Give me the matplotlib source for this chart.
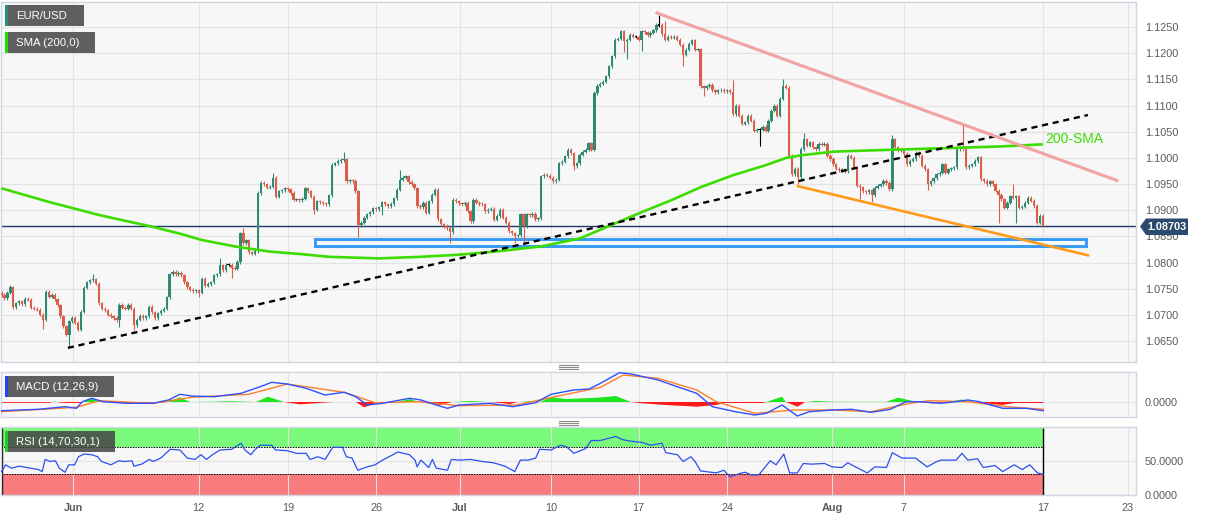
import matplotlib
matplotlib.use('Agg')
import matplotlib.pyplot as plt
from matplotlib.patches import Rectangle, Polygon
from matplotlib.lines import Line2D
import numpy as np

plt.rcParams['font.family'] = ['Liberation Sans', 'DejaVu Sans']
W, H = 1207, 521

# ---------------- DATA ----------------
first_open = 1.0742
closes = [
    1.0738, 1.0732, 1.0742, 1.0753, 1.0715, 1.0722, 1.0726, 1.0720, 1.0731, 1.0729,
    1.0714, 1.0712, 1.0710, 1.0700, 1.0691, 1.0744, 1.0735, 1.0738, 1.0730, 1.0718,
    1.0697, 1.0678, 1.0662, 1.0688, 1.0694, 1.0685, 1.0672, 1.0706, 1.0752, 1.0762,
    1.0766, 1.0768, 1.0760, 1.0722, 1.0712, 1.0709, 1.0700, 1.0697, 1.0694, 1.0690,
    1.0719, 1.0714, 1.0712, 1.0719, 1.0712, 1.0680, 1.0691, 1.0698, 1.0694, 1.0697,
    1.0716, 1.0705, 1.0694, 1.0703, 1.0708, 1.0712, 1.0734, 1.0778, 1.0782, 1.0778,
    1.0780, 1.0776, 1.0762, 1.0753, 1.0748, 1.0745, 1.0747, 1.0742, 1.0769, 1.0756,
    1.0759, 1.0762, 1.0776, 1.0778, 1.0795, 1.0785, 1.0796, 1.0796, 1.0790, 1.0788,
    1.0801, 1.0856, 1.0837, 1.0843, 1.0820, 1.0817, 1.0822, 1.0933, 1.0952, 1.0950,
    1.0943, 1.0945, 1.0962, 1.0926, 1.0936, 1.0938, 1.0942, 1.0940, 1.0933, 1.0920,
    1.0921, 1.0919, 1.0922, 1.0942, 1.0936, 1.0926, 1.0901, 1.0917, 1.0915, 1.0913,
    1.0911, 1.0929, 1.0987, 1.0990, 1.0994, 1.0996, 1.0997, 1.0955, 1.0957, 1.0956,
    1.0936, 1.0871, 1.0876, 1.0886, 1.0892, 1.0896, 1.0904, 1.0902, 1.0906, 1.0915,
    1.0911, 1.0908, 1.0912, 1.0923, 1.0939, 1.0958, 1.0962, 1.0965, 1.0954, 1.0950,
    1.0942, 1.0908, 1.0906, 1.0914, 1.0895, 1.0917, 1.0930, 1.0939, 1.0883, 1.0873,
    1.0870, 1.0866, 1.0858, 1.0920, 1.0917, 1.0913, 1.0911, 1.0914, 1.0898, 1.0879,
    1.0920, 1.0914, 1.0912, 1.0911, 1.0898, 1.0901, 1.0903, 1.0882, 1.0889, 1.0901,
    1.0886, 1.0876, 1.0860, 1.0856, 1.0851, 1.0852, 1.0892, 1.0870, 1.0892, 1.0890,
    1.0893, 1.0883, 1.0885, 1.0965, 1.0968, 1.0966, 1.0962, 1.0955, 1.0958, 1.0990,
    1.0993, 1.1003, 1.1016, 1.1009, 1.0984, 1.0990, 1.1006, 1.1012, 1.1016, 1.1028,
    1.1016, 1.1124, 1.1138, 1.1142, 1.1146, 1.1156, 1.1175, 1.1194, 1.1226, 1.1228,
    1.1242, 1.1223, 1.1226, 1.1235, 1.1232, 1.1232, 1.1226, 1.1242, 1.1240, 1.1235,
    1.1239, 1.1244, 1.1254, 1.1254, 1.1236, 1.1226, 1.1232, 1.1230, 1.1232, 1.1226,
    1.1216, 1.1197, 1.1207, 1.1218, 1.1225, 1.1207, 1.1208, 1.1137, 1.1133, 1.1137,
    1.1140, 1.1129, 1.1126, 1.1129, 1.1130, 1.1128, 1.1129, 1.1126, 1.1084, 1.1100,
    1.1081, 1.1065, 1.1068, 1.1081, 1.1071, 1.1052, 1.1054, 1.1054, 1.1059, 1.1052,
    1.1071, 1.1090, 1.1100, 1.1081, 1.1113, 1.1138, 1.1134, 1.1004, 1.0969, 1.0979,
    1.0963, 1.1017, 1.1036, 1.1023, 1.1030, 1.1020, 1.1017, 1.1027, 1.1025, 1.1027,
    1.1004, 1.0998, 1.0988, 1.0979, 1.0976, 1.0978, 1.0975, 1.1004, 1.1000, 1.0982,
    1.0947, 1.0944, 1.0936, 1.0934, 1.0938, 1.0929, 1.0943, 1.0947, 1.0950, 1.0956,
    1.0952, 1.0940, 1.1036, 1.1020, 1.1014, 1.1016, 1.1008, 1.0988, 1.0995, 1.0998,
    1.1010, 1.1004, 1.0985, 1.0978, 1.0950, 1.0955, 1.0961, 1.0969, 1.0972, 1.0988,
    1.0972, 1.0978, 1.0980, 1.0982, 1.1017, 1.1020, 1.1017, 1.0982, 1.0985, 1.0988,
    1.0994, 1.1001, 1.0959, 1.0956, 1.0950, 1.0955, 1.0950, 1.0937, 1.0930, 1.0921,
    1.0905, 1.0914, 1.0927, 1.0924, 1.0927, 1.0905, 1.0907, 1.0914, 1.0924, 1.0918,
    1.0908, 1.0876, 1.0889, 1.08703,
]
last_price = 1.08703

# notable wick extremes (candle index, price)
hi_idx = [3, 31, 74, 82, 92, 116, 135, 223, 225, 248, 265, 272, 302, 326, 343]
hi_val = [1.0758, 1.0778, 1.0808, 1.0867, 1.0972, 1.1012, 1.0976, 1.1274, 1.1262,
          1.1148, 1.1151, 1.1047, 1.1044, 1.1065, 1.0950]
lo_idx = [14, 23, 40, 45, 67, 78, 106, 121, 129, 152, 174, 177, 194, 211, 212, 217,
          231, 238, 257, 270, 291, 295, 314, 338, 344]
lo_val = [1.0673, 1.0637, 1.0676, 1.0672, 1.0734, 1.0770, 1.0893, 1.0848, 1.0890,
          1.0838, 1.0838, 1.0835, 1.0976, 1.1203, 1.1189, 1.1204, 1.1175, 1.1118,
          1.1022, 1.0950, 1.0921, 1.0915, 1.0938, 1.0876, 1.0876]

# 200-SMA read points
sma_idx = [0, 16, 33, 41, 50, 60, 68, 80, 91, 102, 111, 128, 142, 155, 169, 183, 196,
           206, 216, 227, 237, 248, 259, 266, 271, 282, 298, 322, 339, 353]
sma_val = [1.0942, 1.0916, 1.0891, 1.0881, 1.0870, 1.0856, 1.0843, 1.0830, 1.0821,
           1.0816, 1.0811, 1.0808, 1.0811, 1.0815, 1.0822, 1.0831, 1.0846, 1.0870,
           1.0894, 1.0919, 1.0944, 1.0967, 1.0986, 1.1000, 1.1005, 1.1012, 1.1015,
           1.1019, 1.1022, 1.1026]

# trend lines (candle index, price)
up_trend_x = [22.5, 368.3]
up_trend_y = [1.0637, 1.1082]
down_trend_x = [222.2, 378.1]
down_trend_y = [1.1277, 1.0957]
low_trend_x = [270.0, 368.3]
low_trend_y = [1.0946, 1.0814]
zone_x = [106.3, 367.6]
zone_y = [1.0831, 1.0845]

# MACD (values in 1e-4 units)
macd_idx = [0, 12.5, 21.5, 25.4, 27.4, 30.6, 34.5, 42.3, 51.4, 56.6, 60.5, 64.4, 72.1,
            81.2, 87.7, 91.6, 96.8, 103.3, 109.7, 113.6, 116.2, 120.1, 124, 129.2,
            138.3, 142.2, 147.4, 151.2, 155.1, 165.5, 173.3, 181.1, 186.3, 194, 199.2,
            202.9, 209.5, 213.4, 222.6, 229.1, 235.7, 241, 248.8, 255.4, 259.3, 264.6,
            269.8, 273.8, 281.6, 288.2, 294.8, 301.3, 306.6, 311.8, 318.4, 323.6,
            327.6, 331.5, 339.4, 347.3, 353.2]
macd_e4 = [-8.7, -7.3, -4.7, -6.3, 0.3, 3.7, 0.3, -1.3, -1.3, 2, 7.7, 6, 5.3, 8.7,
           15.3, 19.7, 18, 13.7, 7, 8.7, 9.7, 5.3, -3, -1.3, 3.7, 2, -3, -6.3, -3,
           -1.3, -4.7, -0.7, 7.7, 12, 13, 18.5, 29.3, 28, 22, 15.3, 8.7, -4.7, -9.7,
           -13, -11.3, -3, -14, -9.7, -8, -7.3, -10.3, -7.3, 0.3, 0.3, -1.3, 0.3, 2,
           0.3, -6.3, -6.3, -8.7]
sig_idx = [0, 25.4, 33.2, 51.4, 64.4, 83.8, 96.8, 116.2, 126.6, 142.2, 155.1, 174.6,
           187.6, 202.9, 210.8, 222.6, 235.7, 242.3, 255.4, 262, 268.5, 281.6, 294.8,
           307.9, 314.5, 327.6, 340.7, 353.2]
sig_e4 = [-9.7, -5.3, 1.3, -1.3, 4.7, 7.7, 18, 9.7, -0.7, 0.3, -3.7, -3, 5.3, 14.5,
          27, 23.7, 12, 0.3, -11.3, -9.7, -8, -8, -9.7, -1.3, 1.3, 0.3, -4.7, -7.3]
hist_idx = [0, 16.4, 17.8, 19.8, 22.2, 26.6, 27.3, 30.7, 33.7, 40.2, 53.7, 56.4, 60.5,
            63.9, 72, 77.5, 86.3, 90.3, 95.8, 101.2, 112.4, 120.2, 122.9, 128.3, 131.7,
            134.4, 138.5, 141.5, 148.6, 152.7, 158.8, 165.6, 172.4, 175.1, 179.2,
            182.5, 186.3, 191.4, 199.5, 202.9, 208.2, 213.4, 216, 225.2, 235.7, 242.3,
            244.9, 258, 259.3, 264.6, 265.9, 269.8, 272.5, 276.4, 281.6, 300, 304,
            310.5, 315.8, 321, 325.6, 329.5, 339.4, 343.3, 353.2]
hist_e4 = [-0.8, -0.8, 0.5, -0.6, -1, -1, 0, 3.7, 0, -0.7, -0.7, 0, 4.7, 0, 0.3, 0.8,
           0, 5.3, 0, -2.3, 0, 0, -5.3, 0, -1, 0, 3, 0, -3, 0, 1, 0, -2, 0, 0.8, 0,
           4.7, 3, 4, 4.5, 6, 0, -1, -3, -4.7, -3, -1, -1, 0, 5.3, 0, -4.7, 0, 1,
           0.3, 0.2, 4.3, 0, -1.5, 0, 2.5, 0, -3, -1, -1]

# RSI
rsi_idx = [0, 1.4, 3.4, 6, 8.6, 12.5, 13.8, 14.8, 16.4, 18.3,
           19.6, 21.5, 22.8, 24.8, 26.1, 28, 30.6, 32.6, 33.9, 37.1,
           39.7, 41.7, 44.2, 44.9, 47.5, 50.1, 51.4, 54, 57.2, 60.5,
           63, 65.6, 67.6, 69.5, 71.5, 74.1, 78, 81.2, 82.5, 84.5,
           85.8, 87.7, 91.6, 92.9, 96.8, 100, 103.3, 104.6, 107.2, 109.7,
           112.3, 115.6, 116.9, 118.8, 120.8, 124, 126.6, 129.2, 134.4, 138.3,
           140.2, 140.9, 142.2, 144.8, 146.1, 147.4, 151.2, 152.5, 155.1, 159,
           162.9, 166.8, 170.7, 174, 175.9, 178.5, 181.1, 182.4, 186.3, 189.5,
           191.5, 194, 198, 199.9, 202.9, 208.2, 210.8, 213.4, 217.3, 220,
           223.9, 225.2, 229.1, 231.1, 233.7, 235.1, 237, 242.3, 244.9, 246.9,
           250.1, 252.1, 254.1, 256.7, 258, 260.6, 262.6, 265.2, 267.2, 269.8,
           271.8, 274.4, 279, 281.6, 284.9, 286.9, 289.5, 293.5, 296.1, 300,
           302, 305.3, 309.9, 313.8, 317.1, 318.4, 323.6, 325.6, 327.6, 330.9,
           332.8, 336.8, 339.4, 343.3, 346, 348.6, 351.2, 353.2]
rsi_val = [34, 44, 39, 42, 40, 37, 34, 52, 49, 50,
           39, 33, 44, 44, 56, 60, 59, 56, 49, 44,
           50, 49, 50, 42, 45, 52, 49, 54, 67, 66,
           54, 52, 59, 52, 59, 66, 67, 76, 66, 59,
           66, 73, 73, 66, 65, 61, 61, 52, 56, 52,
           70, 70, 56, 54, 36, 41, 44, 51, 63, 59,
           51, 41, 51, 40, 52, 39, 36, 52, 51, 52,
           49, 47, 42, 34, 51, 51, 54, 67, 66, 73,
           71, 61, 68, 80, 80, 86, 81, 79, 77, 73,
           76, 62, 59, 49, 56, 49, 35, 32, 36, 26,
           31, 33, 29, 29, 36, 50, 44, 60, 32, 32,
           46, 45, 46, 41, 40, 47, 41, 32, 41, 40,
           62, 54, 54, 41, 49, 51, 51, 61, 51, 53,
           40, 43, 34, 44, 37, 44, 32, 30]
rsi_end_idx = 353.1

# x ticks (candle-index positions)
xtick_pos = [24.4, 66.8, 97.05, 127.0, 155.4, 186.3, 216.0, 246.1, 281.5, 305.8, 353.1, 381.9]
xtick_lab = ['Jun', '12', '19', '26', 'Jul', '10', '17', '24', 'Aug', '7', '17', '23']
price_ticks = [1.0650, 1.0700, 1.0750, 1.0800, 1.0850, 1.0900, 1.0950, 1.1000,
               1.1050, 1.1100, 1.1150, 1.1200, 1.1250]

# ---------------- STYLE ----------------
UP = '#2f8a73'
DN = '#d95f4b'
BG = '#f7f7f7'
GRID = '#e3e3e3'
SPINE = '#cfd6e2'
TXT = '#5a5a5a'
XL = (-0.17, 384.6)

fig = plt.figure(figsize=(W / 100, H / 100), dpi=100)
fig.patch.set_facecolor('white')


def fr(x0, y0, x1, y1):
    return [x0 / W, 1 - y1 / H, (x1 - x0) / W, (y1 - y0) / H]


ax = fig.add_axes(fr(1, 2, 1136, 362))
axm = fig.add_axes(fr(1, 371.7, 1136, 417.3))
axr = fig.add_axes(fr(1, 426.7, 1136, 495))

for a in (ax, axm, axr):
    a.set_facecolor(BG)
    a.set_xlim(*XL)
    a.set_axisbelow(True)
    for s in a.spines.values():
        s.set_color(SPINE)
        s.set_linewidth(1)
    a.set_xticks(xtick_pos)
    a.grid(True, color=GRID, lw=0.8)
    a.yaxis.tick_right()
    a.tick_params(axis='both', length=0, labelsize=7.8, labelcolor=TXT)
    a.tick_params(axis='y', pad=6.5)
    a.tick_params(axis='x', labelbottom=False)

# ---------- main panel ----------
ax.set_ylim(1.0610, 1.1298)
ax.set_yticks(price_ticks)
ax.set_yticklabels([f'{v:.4f}' for v in price_ticks])

c = np.array(closes)
o = np.array([first_open] + closes[:-1])
idx = np.arange(len(c))
wick_ext = 0.0003
hi = np.maximum(o, c) + wick_ext
lo = np.minimum(o, c) - wick_ext
for i, v in zip(hi_idx, hi_val):
    hi[i] = v
for i, v in zip(lo_idx, lo_val):
    lo[i] = v
cols = np.where(c > o, UP, np.where(c < o, DN, '#000000'))
body_bot = np.where(c == o, c - 0.0001, np.minimum(o, c))
body_h = np.where(c == o, 0.0002, np.abs(c - o))

# support zone
ax.add_patch(Rectangle((zone_x[0], zone_y[0]), zone_x[1] - zone_x[0], zone_y[1] - zone_y[0],
                       facecolor='white', alpha=0.8, edgecolor='none', zorder=2))
ax.add_patch(Rectangle((zone_x[0], zone_y[0]), zone_x[1] - zone_x[0], zone_y[1] - zone_y[0],
                       facecolor='none', edgecolor='#3a9cf2', lw=2.2, zorder=2.2))

ax.axhline(last_price, color='#1f3b63', lw=1, zorder=2.5)

ax.vlines(idx, lo, hi, colors=cols, lw=0.8, zorder=3)
ax.bar(idx, body_h, bottom=body_bot, width=0.8, color=cols, linewidth=0, zorder=4)

ax.plot(sma_idx, sma_val, color='#3ddc00', lw=1.9, zorder=5, solid_capstyle='butt')
ax.plot(up_trend_x, up_trend_y, color='black', lw=1.7, ls=(0, (2.6, 2.0)), zorder=6)
ax.plot(down_trend_x, down_trend_y, color='#f2a2a2', lw=2.2, zorder=6)
ax.plot(low_trend_x, low_trend_y, color='#ff9b1a', lw=1.9, zorder=6)
ax.text(354, 1.1036, '200-SMA', color='#3ddc00', fontsize=10, va='center', ha='left', zorder=7)

# ---------- MACD panel ----------
mval = np.array(macd_e4) * 1e-4
sval = np.array(sig_e4) * 1e-4
hval = np.array(hist_e4) * 1e-4
axm.set_ylim(-0.00153, 0.00303)
axm.set_yticks([0.0])
axm.set_yticklabels(['0.0000'])
axm.fill_between(hist_idx, hval, 0, where=hval >= 0, interpolate=True, color='#1ee61e', lw=0, zorder=2)
axm.fill_between(hist_idx, hval, 0, where=hval <= 0, interpolate=True, color='#ff1a1a', lw=0, zorder=2)
axm.plot(sig_idx, sval, color='#ff7f2a', lw=1.0, zorder=3)
axm.plot(macd_idx, mval, color='#3050ff', lw=1.0, zorder=4)

# ---------- RSI panel ----------
axr.set_ylim(-0.7, 100.5)
axr.set_yticks([0, 50])
axr.set_yticklabels(['0.0000', '50.0000'])
axr.add_patch(Rectangle((XL[0], 70), rsi_end_idx - XL[0], 28.1, facecolor='#7afa7a',
                        edgecolor='none', zorder=0.3))
axr.add_patch(Rectangle((XL[0], 0), rsi_end_idx - XL[0], 30, facecolor='#fa7b7b',
                        edgecolor='none', zorder=0.3))
axr.hlines([70, 30], XL[0], rsi_end_idx, colors='black', lw=0.7, linestyles=(0, (1.5, 1.2)), zorder=2)
axr.vlines([0.05, rsi_end_idx], 0, 98.1, colors='black', lw=1.0, zorder=2)
axr.plot(rsi_idx, rsi_val, color='#2b4ff0', lw=0.9, zorder=4)

axr.tick_params(axis='x', labelbottom=True, pad=5.5)
axr.set_xticklabels(xtick_lab)
for t in axr.get_xticklabels():
    if t.get_text() in ('Jun', 'Jul', 'Aug'):
        t.set_fontweight('bold')

# ---------- overlays in figure pixels ----------
def label_box(x0, y0, x1, y1, text, accent):
    fig.add_artist(Rectangle((x0 / W, 1 - y1 / H), (x1 - x0) / W, (y1 - y0) / H,
                             transform=fig.transFigure, facecolor='#444444', alpha=0.85,
                             edgecolor='none', zorder=10))
    fig.add_artist(Rectangle((x0 / W, 1 - y1 / H), 2.5 / W, (y1 - y0) / H,
                             transform=fig.transFigure, facecolor=accent,
                             edgecolor='none', zorder=11))
    fig.text((x0 + 11) / W, 1 - ((y0 + y1) / 2 + 0.5) / H, text, color='white',
             fontsize=8.2, va='center', ha='left', zorder=12)


label_box(5, 5, 84, 26, 'EUR/USD', '#2a8c80')
label_box(5, 32, 95, 53, 'SMA (200,0)', '#22dd00')
label_box(5, 376, 114, 397, 'MACD (12,26,9)', '#2244ff')
label_box(5, 431, 115, 452, 'RSI (14,70,30,1)', '#22cc22')

# price tag
tag = [(1140, 226.5), (1146, 218.5), (1188, 218.5), (1188, 235), (1146, 235)]
fig.add_artist(Polygon([(x / W, 1 - y / H) for x, y in tag], closed=True,
                       transform=fig.transFigure, facecolor='#2c4a6e', edgecolor='none', zorder=10))
fig.text(1167 / W, 1 - 227 / H, f'{last_price:.5f}', color='white', fontsize=7.8,
         fontweight='bold', ha='center', va='center', zorder=11)

# panel handles
for yy in (364.7, 366.7, 368.7, 420.7, 422.7, 424.7):
    fig.add_artist(Line2D([559 / W, 578 / W], [1 - yy / H, 1 - yy / H], transform=fig.transFigure,
                          color='#8a8a8a', lw=0.8, zorder=10))

fig.savefig('out.png', dpi=100, facecolor='white')
